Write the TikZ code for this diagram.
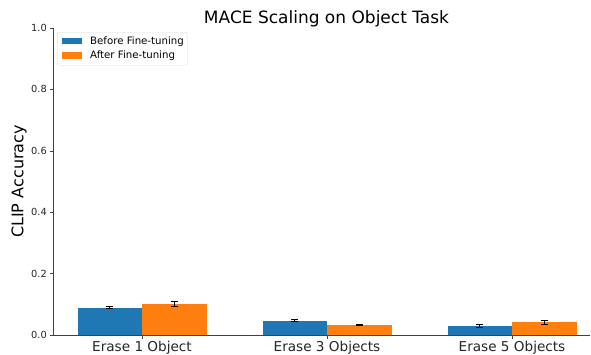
\documentclass[tikz,border=0pt]{standalone}
\usepackage{fontspec}
\setmainfont{DejaVu Sans}
\definecolor{mblue}{HTML}{1F77B4}
\definecolor{morange}{HTML}{FF7F0E}
\newcommand{\mybar}[5]{% name, left, value, err, color
  \fill[#5] (#2,{335-307*#3}) rectangle ({#2+64.5},335);
  \coordinate (#1lo) at ({#2+32.25},{335-307*(#3-#4)});
  \coordinate (#1hi) at ({#2+32.25},{335-307*(#3+#4)});
  \draw[errbar] (#1lo) -- (#1hi);
  \draw[errbar] ([xshift=-3.5pt]#1lo) -- ([xshift=3.5pt]#1lo);
  \draw[errbar] ([xshift=-3.5pt]#1hi) -- ([xshift=3.5pt]#1hi);
}
\begin{document}
\begin{tikzpicture}[x=1pt,y=-1pt,
  spinestyle/.style={draw=black!75,line width=0.8pt},
  tickmark/.style={draw=black!75,line width=0.6pt},
  ylab/.style={font=\fontsize{9.8}{11}\selectfont,anchor=east,inner sep=0pt,text=black!85},
  xlab/.style={font=\fontsize{13.6}{15}\selectfont,anchor=north,inner sep=0pt,text=black!85},
  errbar/.style={draw=black,line width=0.8pt}]
\useasboundingbox (0,0) rectangle (591,354);
\fill[white] (0,0) rectangle (591,354);
% bars
\mybar{b1}{77.5}{0.089}{0.003}{mblue}
\mybar{o1}{142}{0.102}{0.008}{morange}
\mybar{b3}{262.5}{0.047}{0.003}{mblue}
\mybar{o3}{327}{0.033}{0.002}{morange}
\mybar{b5}{447.5}{0.029}{0.004}{mblue}
\mybar{o5}{512}{0.042}{0.007}{morange}
% spines
\coordinate (origin) at (53,335);
\coordinate (ytop) at (53,28);
\coordinate (xend) at (590,335);
\draw[spinestyle] (ytop) -- (origin) -- (xend);
% y ticks
\foreach \v/\t [count=\i] in {0/0.0,0.2/0.2,0.4/0.4,0.6/0.6,0.8/0.8,1/1.0}{
  \coordinate (yt\i) at (53,{335-307*\v});
  \draw[tickmark] (yt\i) -- ++(-3.5,0);
  \node[ylab] at ([xshift=-6pt]yt\i) {\t};
}
% x ticks
\foreach \c/\t in {142/Erase 1 Object,327/Erase 3 Objects,512/Erase 5 Objects}{
  \coordinate (xt\c) at (\c,335);
  \draw[tickmark] (xt\c) -- ++(0,3.5);
  \node[xlab] at ([yshift=-6pt]xt\c) {\t};
}
% title and y label
\node[font=\fontsize{17}{19}\selectfont,anchor=base,inner sep=0pt] (title) at (326.5,23) {MACE Scaling on Object Task};
\node[font=\fontsize{16}{18}\selectfont,rotate=90,anchor=center,inner sep=0pt] (ylabel) at (19,181.5) {CLIP Accuracy};
% legend
\node[draw=black!15,fill=white,rounded corners=2pt,minimum width=130pt,minimum height=33pt,anchor=north west,inner sep=0pt] (legend) at (57,32) {};
\fill[mblue] (62,38.3) rectangle (82,44.3);
\fill[morange] (62,52.3) rectangle (82,58.6);
\node[font=\fontsize{10.2}{12}\selectfont,anchor=west,inner sep=0pt] (l1) at (90,41.5) {Before Fine-tuning};
\node[font=\fontsize{10.2}{12}\selectfont,anchor=west,inner sep=0pt] (l2) at (90,55.5) {After Fine-tuning};
\end{tikzpicture}
\end{document}
